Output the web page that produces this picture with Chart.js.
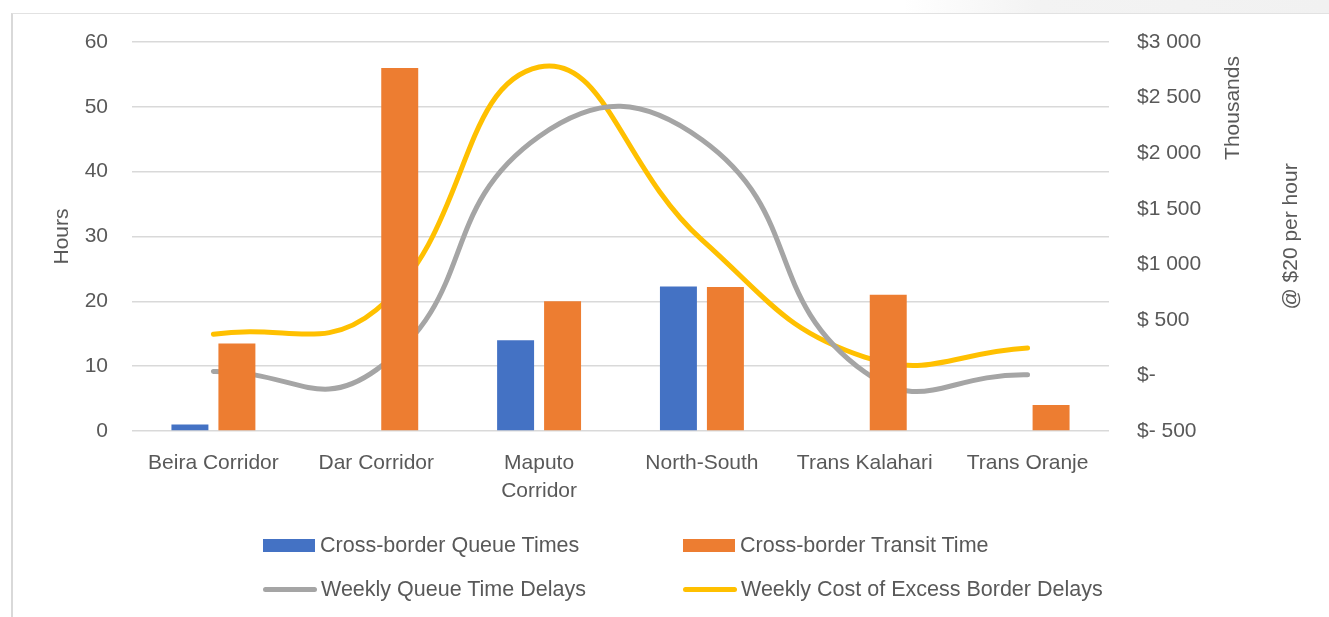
<!DOCTYPE html>
<html>
<head>
<meta charset="utf-8">
<script src="https://cdn.jsdelivr.net/npm/chart.js@4/dist/chart.umd.min.js"></script>
<style>
  html, body { margin: 0; padding: 0; background: #ffffff; }
  body { width: 1329px; height: 617px; position: relative; overflow: hidden;
         font-family: "Liberation Sans", Arial, sans-serif; }
  #topband { position: absolute; left: 0; top: 0; width: 1329px; height: 13px;
             background: linear-gradient(to right, #ffffff 0%, #ffffff 68%, #f3f3f3 78%, #f1f1f1 100%); }
  #frame { position: absolute; left: 11px; top: 13px; width: 1340px; height: 620px;
           border-left: 2px solid #d9d9d9; border-top: 1px solid #e2e2e2; box-sizing: border-box; }
  #wrap { position: absolute; left: 0; top: 0; width: 1329px; height: 617px; }
  #legend { position: absolute; left: 263px; top: 523px; width: 900px;
            display: grid; grid-template-columns: 420px 420px; grid-auto-rows: 44px; }
  .item { display: flex; align-items: center; font-size: 21.5px; color: #595959; white-space: nowrap; }
  .sw-bar { width: 52px; height: 13px; margin-right: 5px; }
  .sw-line { width: 54px; height: 5px; border-radius: 3px; margin-right: 4px; }
</style>
</head>
<body>
<div id="topband"></div>
<div id="frame"></div>
<div id="wrap"><canvas id="c" width="1329" height="617"></canvas></div>
<div id="legend"></div>
<script>
// ---- Data ----
const categories = ['Beira Corridor', 'Dar Corridor', ['Maputo', 'Corridor'], 'North-South', 'Trans Kalahari', 'Trans Oranje'];
const queueTimes   = [1, 0, 14, 22.3, 0, 0];          // hours (left axis)
const transitTimes = [13.5, 56, 20, 22.2, 21, 4];     // hours (left axis)
const weeklyQueueDelays = [35, 50, 2150, 2120, 30, 5];       // $ thousands (right axis)
const weeklyExcessCost  = [370, 590, 2775, 1220, 165, 247];  // $ thousands (right axis)
const leftTicks = [0, 10, 20, 30, 40, 50, 60];
const rightTickValues = [-500, 0, 500, 1000, 1500, 2000, 2500, 3000];
const rightTickLabels = ['$- 500', '$-', '$ 500', '$1 000', '$1 500', '$2 000', '$2 500', '$3 000'];
const seriesNames = ['Cross-border Queue Times', 'Cross-border Transit Time', 'Weekly Queue Time Delays', 'Weekly Cost of Excess Border Delays'];

const TXT = '#595959';
const FONT = { family: '"Liberation Sans", Arial, sans-serif', size: 21 };

const rightTitles = {
  id: 'rightTitles',
  afterDraw(chart) {
    const s = chart.scales.y1;
    const ctx = chart.ctx;
    const draw = (text, x, y) => {
      ctx.save();
      ctx.fillStyle = TXT;
      ctx.font = '21px "Liberation Sans", Arial, sans-serif';
      ctx.textAlign = 'center';
      ctx.textBaseline = 'middle';
      ctx.translate(x, y);
      ctx.rotate(-Math.PI / 2);
      ctx.fillText(text, 0, 0);
      ctx.restore();
    };
    draw('Thousands', s.left + 124, chart.chartArea.top + 66);
    draw('@ $20 per hour', s.left + 182, (chart.chartArea.top + chart.chartArea.bottom) / 2);
  }
};

const chart = new Chart(document.getElementById('c'), {
  type: 'bar',
  data: {
    labels: categories,
    datasets: [
      { type: 'bar', label: seriesNames[0], data: queueTimes, backgroundColor: '#4472c4',
        yAxisID: 'y', order: 0, categoryPercentage: 0.577, barPercentage: 0.787 },
      { type: 'bar', label: seriesNames[1], data: transitTimes, backgroundColor: '#ed7d31',
        yAxisID: 'y', order: 0, categoryPercentage: 0.577, barPercentage: 0.787 },
      { type: 'line', label: seriesNames[2], data: weeklyQueueDelays, borderColor: '#a5a5a5',
        backgroundColor: '#a5a5a5', borderWidth: 5, pointRadius: 0, tension: 0.5,
        borderCapStyle: 'round', yAxisID: 'y1', order: 1, fill: false },
      { type: 'line', label: seriesNames[3], data: weeklyExcessCost, borderColor: '#ffc000',
        backgroundColor: '#ffc000', borderWidth: 5, pointRadius: 0, tension: 0.45,
        borderCapStyle: 'round', yAxisID: 'y1', order: 1, fill: false }
    ]
  },
  options: {
    responsive: false,
    animation: false,
    layout: { padding: { top: 42, left: 0, right: 0, bottom: 106 } },
    plugins: { legend: { display: false }, tooltip: { enabled: false } },
    scales: {
      x: {
        grid: { display: false, drawTicks: false },
        border: { display: false },
        ticks: { color: TXT, font: { ...FONT, lineHeight: 1.35 }, padding: 18, maxRotation: 0, autoSkip: false },
        afterFit(s) { s.height = 80; }
      },
      y: {
        position: 'left',
        min: 0, max: 60,
        afterBuildTicks(s) { s.ticks = leftTicks.map(v => ({ value: v })); },
        grid: { color: '#d9d9d9', lineWidth: 1.5, drawTicks: false },
        border: { display: false },
        ticks: { color: TXT, font: FONT, padding: 24 },
        title: { display: true, text: 'Hours', color: TXT, font: FONT, padding: { top: 50, bottom: 0 } },
        afterFit(s) { s.width = 132; }
      },
      y1: {
        position: 'right',
        min: -500, max: 3000,
        afterBuildTicks(s) { s.ticks = rightTickValues.map(v => ({ value: v })); },
        grid: { display: false, drawTicks: false },
        border: { display: false },
        ticks: {
          color: TXT, font: FONT, padding: 28,
          callback(v) { const i = rightTickValues.indexOf(v); return i >= 0 ? rightTickLabels[i] : ''; }
        },
        afterFit(s) { s.width = 220; }
      }
    }
  },
  plugins: [rightTitles]
});

// HTML legend built from the chart's datasets (2 x 2 grid)
const legend = document.getElementById('legend');
chart.data.datasets.forEach(ds => {
  const item = document.createElement('div');
  item.className = 'item';
  const sw = document.createElement('span');
  if (ds.type === 'line') { sw.className = 'sw-line'; sw.style.background = ds.borderColor; }
  else { sw.className = 'sw-bar'; sw.style.background = ds.backgroundColor; }
  item.appendChild(sw);
  const t = document.createElement('span');
  t.textContent = ds.label;
  item.appendChild(t);
  legend.appendChild(item);
});
</script>
</body>
</html>
